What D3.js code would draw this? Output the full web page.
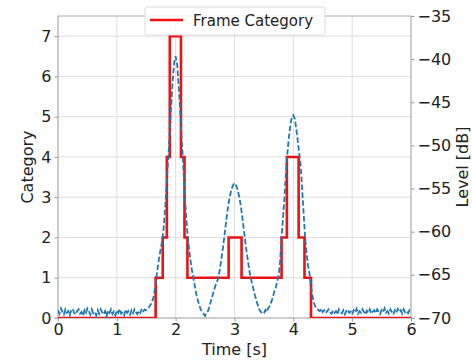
<!DOCTYPE html>
<html>
<head>
<meta charset="utf-8">
<script src="https://cdn.jsdelivr.net/npm/d3@7"></script>
<style>
  body { margin: 0; background: #fff; }
  text { font-family: "DejaVu Sans", sans-serif; fill: #222; }
</style>
</head>
<body>
<div id="chart"></div>
<script>
// Frame category: start time of each frame and the category it holds
var frameStarts = [0, 1.66, 1.78, 1.85, 1.90, 2.09, 2.15, 2.20, 2.90, 3.12, 3.80, 3.89, 4.09, 4.19, 4.30];
var frameCats   = [0, 1,    2,    4,    7,    4,    2,    1,    2,    1,    2,    4,    2,    1,    0];
var frameEnd = 6;

// Level [dB], one sample every 0.025 s from 0 s (each row = 0.2 s)
var levelStep = 0.025;
var levelDb = [
  -69.1, -69.5, -68.9, -69.3, -69.6, -69.0, -69.4, -69.2,
  -69.7, -69.1, -68.95, -69.4, -69.6, -69.2, -69.0, -69.5,
  -69.3, -69.75, -69.1, -69.4, -68.9, -69.2, -69.6, -69.0,
  -69.45, -69.3, -69.7, -69.1, -69.5, -69.0, -69.35, -69.6,
  -69.2, -69.8, -69.1, -69.4, -69.0, -69.55, -69.25, -69.7,
  -69.1, -69.4, -68.95, -69.5, -69.3, -69.65, -69.0, -69.4,
  -69.2, -69.6, -69.1, -69.45, -69.0, -69.3, -69.55, -69.15,
  -69.4, -68.9, -69.2, -69.0, -69.1, -68.95, -68.7, -68.45,
  -68.13, -67.57, -66.5, -65.1, -63.93, -62.77, -61.83, -60.9,
  -59.27, -56.93, -54.13, -51.33, -48.53, -45.27, -42.47, -40.37,
  -39.67, -40.6, -42.93, -45.73, -49.0, -51.8, -55.07, -57.87,
  -60.2, -61.83, -63.23, -64.4, -65.33, -66.27, -67.2, -67.9,
  -68.5, -69.0, -69.3, -69.5, -69.75, -69.4, -69.2, -68.6,
  -68.04, -67.43, -66.83, -66.27, -65.89, -65.33, -64.4, -63.23,
  -62.07, -60.67, -59.27, -57.87, -56.7, -55.77, -55.07, -54.6,
  -54.37, -54.6, -55.07, -55.77, -56.7, -57.87, -59.27, -60.67,
  -62.07, -63.23, -64.4, -65.33, -66.03, -66.73, -67.43, -68.04,
  -68.6, -69.07, -69.3, -69.53, -69.44, -69.07, -69.3, -68.83,
  -68.6, -68.13, -67.67, -66.97, -66.5, -65.8, -65.1, -63.47,
  -60.67, -58.33, -56.0, -53.2, -50.87, -49.0, -47.6, -46.67,
  -46.48, -46.9, -48.07, -49.47, -50.87, -52.27, -55.07, -57.87,
  -60.67, -62.53, -63.93, -64.87, -66.27, -67.43, -68.23, -68.69,
  -68.97, -69.07, -69.2, -68.9, -69.3, -69.1, -69.45, -69.2,
  -69.0, -69.35, -69.5, -69.1, -69.4, -69.2, -69.6, -69.0,
  -69.3, -69.45, -69.1, -69.55, -69.2, -69.0, -69.4, -69.25,
  -69.6, -69.1, -69.35, -68.95, -69.5, -69.2, -69.4, -69.0,
  -69.3, -69.6, -69.15, -69.4, -69.0, -69.5, -69.25, -69.1,
  -69.45, -69.0, -69.3, -69.55, -69.1, -69.35, -68.9, -69.4,
  -69.2, -69.5, -69.0, -69.3, -69.6, -69.1, -69.4, -68.95,
  -69.3, -69.1, -69.5, -69.0, -69.35, -69.2, -69.45, -69.1,
  -69.3
];

var xTicks = [0, 1, 2, 3, 4, 5, 6];
var catTicks = [0, 1, 2, 3, 4, 5, 6, 7];
var dbTicks = [-70, -65, -60, -55, -50, -45, -40, -35];

var W = 472, H = 361;
var pLeft = 58, pRight = 411, pTop = 16, pBottom = 318;

var svg = d3.select("#chart").append("svg")
  .attr("width", W).attr("height", H);

var x = d3.scaleLinear().domain([0, 6]).range([pLeft, pRight]);
var yCat = d3.scaleLinear().domain([0, 7.5]).range([pBottom, pTop]);
var yDb = d3.scaleLinear().domain([-70, -35]).range([pBottom, pTop]);

svg.append("defs").append("clipPath").attr("id", "plotClip")
  .append("rect").attr("x", pLeft).attr("y", pTop)
  .attr("width", pRight - pLeft).attr("height", pBottom - pTop);

// grid
var grid = svg.append("g");
grid.selectAll("line.gx").data(xTicks).enter().append("line")
  .attr("x1", function (d) { return x(d); }).attr("x2", function (d) { return x(d); })
  .attr("y1", pTop).attr("y2", pBottom)
  .style("stroke", "#dedede").style("stroke-width", 1);
grid.selectAll("line.gy").data(catTicks).enter().append("line")
  .attr("x1", pLeft).attr("x2", pRight)
  .attr("y1", function (d) { return yCat(d); }).attr("y2", function (d) { return yCat(d); })
  .style("stroke", "#dedede").style("stroke-width", 1);

// axes
var fmt = function (d) { return String(d).replace("-", "\u2212"); };
var axB = svg.append("g").attr("transform", "translate(0," + pBottom + ")")
  .call(d3.axisBottom(x).tickValues(xTicks).tickSize(3.5).tickPadding(2).tickFormat(fmt));
var axL = svg.append("g").attr("transform", "translate(" + pLeft + ",0)")
  .call(d3.axisLeft(yCat).tickValues(catTicks).tickSize(3.5).tickPadding(3).tickFormat(fmt));
var axR = svg.append("g").attr("transform", "translate(" + pRight + ",0)")
  .call(d3.axisRight(yDb).tickValues(dbTicks).tickSize(3.5).tickPadding(3).tickFormat(fmt));
[axB, axL, axR].forEach(function (a) {
  a.select(".domain").remove();
  a.selectAll("line").style("stroke", "#999");
  a.selectAll("text").style("font-size", "16px").style("fill", "#222")
    .style("font-family", "'DejaVu Sans', sans-serif");
});

// frame border
svg.append("rect").attr("x", pLeft).attr("y", pTop)
  .attr("width", pRight - pLeft).attr("height", pBottom - pTop)
  .style("fill", "none").style("stroke", "#aaa").style("stroke-width", 1);

// red frame category steps
var framePts = frameStarts.map(function (t, i) { return [t, frameCats[i]]; });
framePts.push([frameEnd, frameCats[frameCats.length - 1]]);
svg.append("path").datum(framePts)
  .attr("clip-path", "url(#plotClip)")
  .attr("d", d3.line().curve(d3.curveStepAfter)
    .x(function (d) { return x(d[0]); }).y(function (d) { return yCat(d[1]); }))
  .style("fill", "none").style("stroke", "#ee1111").style("stroke-width", 2.6);

// blue dashed level
svg.append("path").datum(levelDb)
  .attr("clip-path", "url(#plotClip)")
  .attr("d", d3.line()
    .x(function (d, i) { return x(i * levelStep); }).y(function (d) { return yDb(d); }))
  .style("fill", "none").style("stroke", "#1f77b4").style("stroke-width", 1.8)
  .style("stroke-dasharray", "5.5,2.4");

// axis titles
svg.append("text").attr("x", (pLeft + pRight) / 2).attr("y", 355)
  .style("text-anchor", "middle").style("font-size", "16px").text("Time [s]");
svg.append("text").attr("transform", "translate(33," + ((pTop + pBottom) / 2) + ") rotate(-90)")
  .style("text-anchor", "middle").style("font-size", "16px").text("Category");
svg.append("text").attr("transform", "translate(468," + ((pTop + pBottom) / 2) + ") rotate(-90)")
  .style("text-anchor", "middle").style("font-size", "16px").text("Level [dB]");

// legend
var lg = svg.append("g");
lg.append("rect").attr("x", 145).attr("y", 7).attr("width", 180).attr("height", 28)
  .attr("rx", 2).style("fill", "#fff").style("fill-opacity", 0.85)
  .style("stroke", "#ddd").style("stroke-width", 1);
lg.append("line").attr("x1", 150).attr("x2", 183).attr("y1", 20).attr("y2", 20)
  .style("stroke", "#ee1111").style("stroke-width", 2.5);
lg.append("text").attr("x", 193).attr("y", 25.5).style("font-size", "15px").text("Frame Category");
</script>
</body>
</html>
